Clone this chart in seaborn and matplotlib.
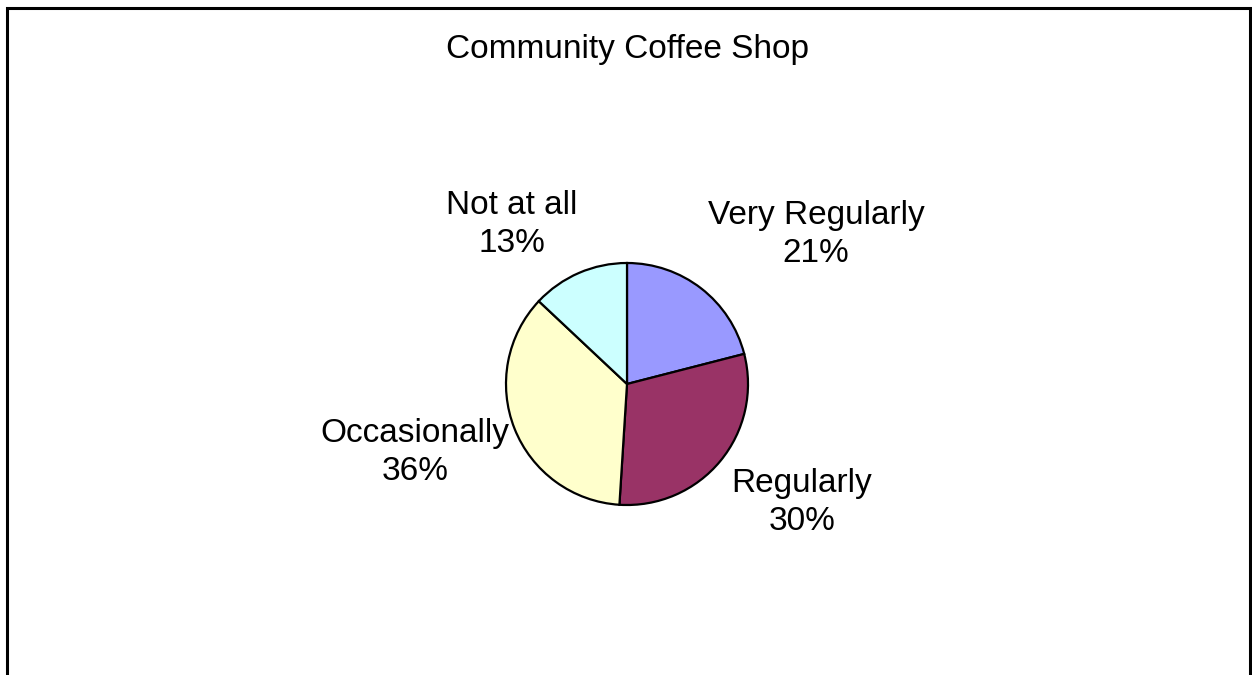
import matplotlib
matplotlib.use("Agg")
import matplotlib.pyplot as plt
from matplotlib.patches import Rectangle
import seaborn as sns

# Survey responses: how often people visit the community coffee shop
categories = ["Very Regularly", "Regularly", "Occasionally", "Not at all"]
shares = [21, 30, 36, 13]
colors = ["#9999FF", "#993366", "#FFFFCC", "#CCFFFF"]
title = "Community Coffee Shop"

sns.set_theme(style="white")
plt.rcParams["font.family"] = ["Liberation Sans", "DejaVu Sans"]

W, H = 1252, 675
fig = plt.figure(figsize=(W / 100, H / 100), dpi=100)
fig.patch.set_facecolor("white")

# pie axes: centre (627, 384) px, radius 121 px
cx, cy, r = 627, 384, 121
ax = fig.add_axes([(cx - r) / W, (H - cy - r) / H, 2 * r / W, 2 * r / H])
ax.pie(shares, colors=colors, startangle=90, counterclock=False,
       radius=1.0,
       wedgeprops=dict(edgecolor="black", linewidth=1.6))
ax.set_xlim(-1.0, 1.0)
ax.set_ylim(-1.0, 1.0)
ax.set_aspect("equal")
ax.axis("off")

# label anchors (pixel positions of the last-line baseline)
label_pos = [(816, 262), (802, 530), (415, 480), (512, 252)]
for name, val, (px, py) in zip(categories, shares, label_pos):
    fig.text(px / W, 1 - py / H, f"{name}\n{val}%", ha="center",
             va="baseline", fontsize=24, linespacing=1.3, color="black",
             multialignment="center")

fig.text(628 / W, 1 - 58 / H, title, ha="center", va="baseline",
         fontsize=24, color="black")

# chart frame
fig.patches.append(Rectangle((6.5 / W, -0.05), (1249.5 - 6.5) / W,
                             1.05 - 7.5 / H, transform=fig.transFigure,
                             fill=False, edgecolor="black", linewidth=2.2,
                             figure=fig))

fig.savefig("out.png", dpi=100, facecolor="white")
